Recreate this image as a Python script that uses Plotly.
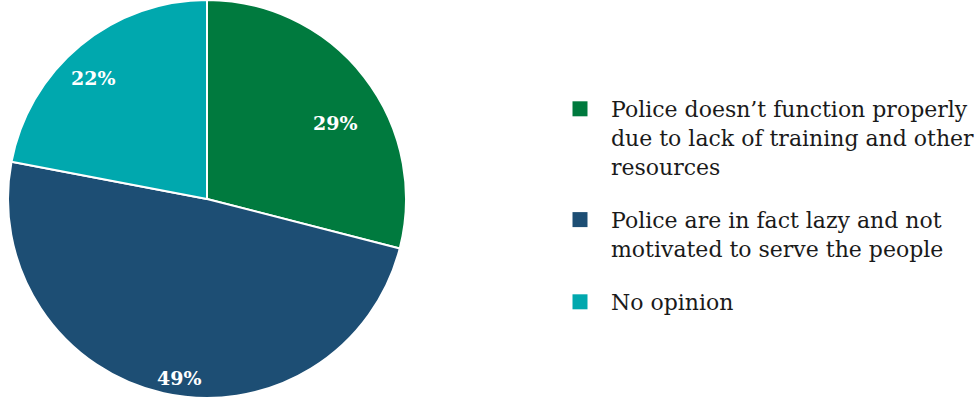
import math
import plotly.graph_objects as go

labels = [
    "Police doesn’t function properly<br>due to lack of training and other<br>resources",
    "Police are in fact lazy and not<br>motivated to serve the people",
    "No opinion",
]
values = [29, 49, 22]
colors = ["#007A3E", "#1D4E74", "#00A8AE"]

# label placement (radius fraction, angle nudge in degrees) - styling only
label_nudge = [(0.75, 7.0), (0.91, -4.0), (0.835, -3.7)]

# figure slightly wider than the 975px window so the legend text is cropped
# at the right edge like the reference
W, H = 990, 398
dom_x = [0, 414 / W]

fig = go.Figure()
fig.add_trace(go.Pie(
    labels=labels,
    values=values,
    sort=False,
    direction="clockwise",
    rotation=0,
    marker=dict(colors=colors, line=dict(color="white", width=2)),
    textinfo="none",
    domain=dict(x=dom_x, y=[0, 1]),
    hoverinfo="label+percent",
    showlegend=False,
))

# legend entries
for i, (lab, col) in enumerate(zip(labels, colors)):
    fig.add_trace(go.Scatter(
        x=[None], y=[None], mode="markers", name=lab,
        legendgroup=f"g{i}",
        marker=dict(symbol="square", size=15, color=col),
        hoverinfo="skip",
    ))

# percentage labels, positioned from the slice angles
cx = (dom_x[0] + dom_x[1]) / 2 * W
cy = H / 2
R = min((dom_x[1] - dom_x[0]) * W, H) / 2
total = sum(values)
cum = 0
for v, (fr, dth) in zip(values, label_nudge):
    mid = (cum + v / 2) / total * 360
    cum += v
    a = math.radians(mid + dth)
    px = cx + fr * R * math.sin(a)
    py = cy - fr * R * math.cos(a)
    fig.add_annotation(
        x=px / W, y=1 - py / H, xref="paper", yref="paper",
        xanchor="center", yanchor="middle",
        text=f"<b>{v}%</b>", showarrow=False,
        font=dict(family="DejaVu Serif", size=19, color="white"),
    )

fig.update_layout(
    width=W, height=H,
    margin=dict(l=0, r=0, t=0, b=0),
    paper_bgcolor="white",
    plot_bgcolor="white",
    showlegend=True,
    xaxis=dict(visible=False),
    yaxis=dict(visible=False),
    legend=dict(
        x=549 / W, y=1 - 88 / H, xanchor="left", yanchor="top",
        font=dict(family="DejaVu Serif", size=22, color="#1a1a1a"),
        itemwidth=52, valign="top",
        traceorder="grouped", tracegroupgap=22,
        itemclick=False, itemdoubleclick=False,
    ),
)

fig.write_html(
    "out.html", config={"displayModeBar": False},
    post_script="document.body.style.margin='0';"
                "document.body.style.overflow='hidden';"
                "document.documentElement.style.overflow='hidden';",
)
